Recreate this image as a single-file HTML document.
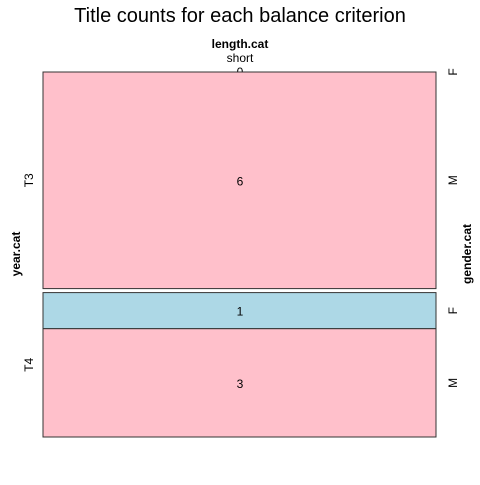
<!DOCTYPE html>
<html><head><meta charset="utf-8"><style>
body{margin:0;background:#fff}
text{font-family:"Liberation Sans",sans-serif;fill:#000}
</style></head><body>
<svg width="480" height="480" id="chart">
<text x="240" y="22" font-size="20" text-anchor="middle">Title counts for each balance criterion</text>
<text x="240" y="48" font-size="12" font-weight="bold" text-anchor="middle">length.cat</text>
<text x="240" y="62" font-size="12" text-anchor="middle">short</text>
<text transform="translate(20,254) rotate(-90)" font-size="12" font-weight="bold" text-anchor="middle">year.cat</text>
<text transform="translate(471,254) rotate(-90)" font-size="12" font-weight="bold" text-anchor="middle">gender.cat</text>
<g id="cells"></g>
</svg>
<script>
const years = ["T3","T4"];
const genders = ["F","M"];
const counts = [[0,6],[1,3]];
const colors = {F:"#add8e6", M:"#ffc0cb"};
const cellsG = document.getElementById('cells');
const NS = "http://www.w3.org/2000/svg";
const x0 = 43, x1 = 436, yTop = 72, yBottom = 437, gap = 4;
const total = counts.flat().reduce((a,b)=>a+b,0);
const scale = (yBottom-yTop-gap*(years.length-1))/total;
let y = yTop;
years.forEach((yr,i)=>{
  const yStart = y;
  genders.forEach((g,j)=>{
    const h = counts[i][j]*scale;
    if (h === 0) {
      const t = document.createElementNS(NS,'text');
      
      
      t.setAttribute('x',240); t.setAttribute('y',y+4); t.setAttribute('font-size','12'); t.setAttribute('text-anchor','middle');
      t.textContent = counts[i][j]; cellsG.appendChild(t);
    }
    const r = document.createElementNS(NS,'rect');
    
    
    r.setAttribute('x',x0); r.setAttribute('y',y); r.setAttribute('width',x1-x0); r.setAttribute('height',h);
    r.setAttribute('fill',colors[g]); r.setAttribute('stroke','#333'); r.setAttribute('stroke-width','1');
    cellsG.appendChild(r);
    if (h > 0) {
      const t = document.createElementNS(NS,'text');
      
      
      t.setAttribute('x',240); t.setAttribute('y',y+h/2+5); t.setAttribute('font-size','12'); t.setAttribute('text-anchor','middle');
      t.textContent = counts[i][j]; cellsG.appendChild(t);
    }
    const gl = document.createElementNS(NS,'text');
    
    
    const cy = y + h/2;
    gl.setAttribute('transform','translate(457,'+cy+') rotate(-90)');
    gl.setAttribute('font-size','12'); gl.setAttribute('text-anchor','middle');
    gl.textContent = g; cellsG.appendChild(gl);
    y += h;
  });
  const yl = document.createElementNS(NS,'text');
  
  
  const my = (yStart + y)/2;
  yl.setAttribute('transform','translate(33,'+my+') rotate(-90)');
  yl.setAttribute('font-size','12'); yl.setAttribute('text-anchor','middle');
  yl.textContent = yr; cellsG.appendChild(yl);
  y += gap;
});
</script>
</body></html>
